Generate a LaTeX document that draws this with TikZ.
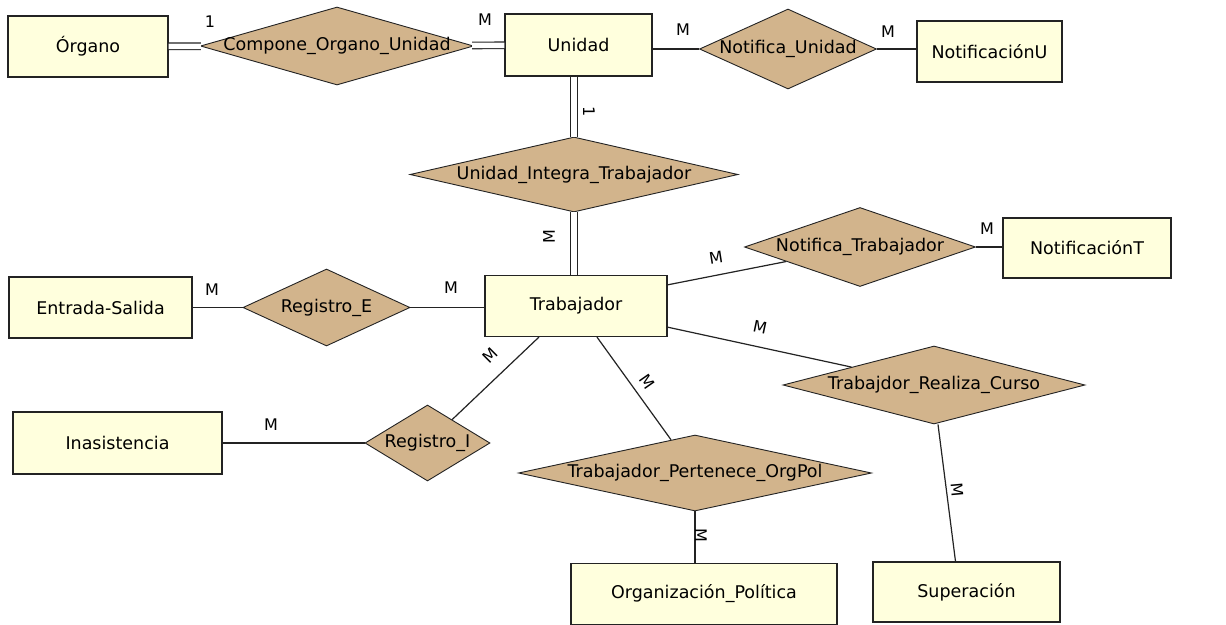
\documentclass[tikz,border=0pt]{standalone}
\usepackage{fontspec}
\setmainfont{DejaVu Sans}
\usetikzlibrary{shapes.geometric}
\definecolor{entfill}{RGB}{255,255,221}
\definecolor{relfill}{RGB}{210,180,140}
\definecolor{edgec}{RGB}{35,35,35}
\begin{document}
\begin{tikzpicture}[x=1pt,y=-1pt,
 ent/.style={draw=edgec, line width=1.2pt, fill=entfill, rectangle, inner sep=0pt, font=\fontsize{17.5}{20}\selectfont},
 rel/.style={draw=edgec, line width=0.9pt, fill=relfill, diamond, inner sep=0pt},
 rtext/.style={font=\fontsize{17.5}{20}\selectfont, inner sep=0pt},
 card/.style={font=\fontsize{16}{18}\selectfont, inner sep=0pt},
 link/.style={draw=edgec, line width=1.2pt},
 dbl/.style={draw=edgec, line width=1.1pt, double=white, double distance=5.5pt}]
\useasboundingbox[fill=white] (0,0) rectangle (1226,624);
% entities
\node[ent, minimum width=160pt, minimum height=61pt] (org) at (88,46.5) {Órgano};
\node[ent, minimum width=147pt, minimum height=62pt] (uni) at (578.5,45) {Unidad};
\node[ent, minimum width=145pt, minimum height=61pt] (notu) at (989.5,51.5) {NotificaciónU};
\node[ent, minimum width=168pt, minimum height=60pt] (nott) at (1087,248) {NotificaciónT};
\node[ent, minimum width=183pt, minimum height=61pt] (es) at (100.5,307.5) {Entrada-Salida};
\node[ent, minimum width=182pt, minimum height=61pt] (trab) at (576,306) {Trabajador};
\node[ent, minimum width=209pt, minimum height=62pt] (inas) at (117.5,443) {Inasistencia};
\node[ent, minimum width=266pt, minimum height=61pt] (orgpol) at (704,594) {Organización\_Política};
\node[ent, minimum width=187pt, minimum height=60pt] (sup) at (966.5,592) {Superación};
% relationships
\node[rel, minimum width=273pt, minimum height=78pt, label={[rtext]center:Compone\_Organo\_Unidad}] (cou) at (337,46) {};
\node[rel, minimum width=177pt, minimum height=80pt, label={[rtext]center:Notifica\_Unidad}] (nu) at (788,49) {};
\node[rel, minimum width=328pt, minimum height=75pt, label={[rtext]center:Unidad\_Integra\_Trabajador}] (uit) at (574,174.5) {};
\node[rel, minimum width=231pt, minimum height=79pt, label={[rtext]center:Notifica\_Trabajador}] (nt) at (860,247) {};
\node[rel, minimum width=167pt, minimum height=77pt, label={[rtext]center:Registro\_E}] (re) at (326.5,307.5) {};
\node[rel, minimum width=302pt, minimum height=78pt, label={[rtext]center:Trabajdor\_Realiza\_Curso}] (rc) at (934,385) {};
\node[rel, minimum width=125pt, minimum height=76pt, label={[rtext]center:Registro\_I}] (ri) at (427.5,443) {};
\node[rel, minimum width=353pt, minimum height=76pt, label={[rtext]center:Trabajador\_Pertenece\_OrgPol}] (tp) at (695,473) {};
% connectors
\draw[dbl] (org) -- (cou);
\draw[dbl] (cou) -- (uni);
\draw[link] (uni.east |- nu) -- (nu);
\draw[link] (nu) -- (notu.west |- nu);
\draw[dbl] (uni.south -| uit.north) -- (uit.north);
\draw[dbl] (uit.south) -- (uit.south |- trab.north);
\draw[link] (es) -- (re);
\draw[link] (re) -- (re -| trab.west);
\draw[link] (trab.13) -- (nt);
\draw[link] (nt) -- (nt -| nott.west);
\draw[link] (trab.-13) -- (rc);
\draw[link] ([xshift=4pt]rc.south) -- ([xshift=-11pt]sup.north);
\draw[link] (trab.-56) -- (tp);
\draw[link] (tp.south) -- (tp.south |- orgpol.north);
\draw[link] (trab.220) -- (ri);
\draw[link] (inas) -- (ri);
% cardinalities
\node[card] (c1) at (210,22) {1};
\node[card] (c2) at (485,20) {M};
\node[card] (c3) at (683,30) {M};
\node[card] (c4) at (888,32) {M};
\node[card, rotate=-90] (c5) at (589,112) {1};
\node[card, rotate=90] (c6) at (549,237) {M};
\node[card] (c7) at (212,290) {M};
\node[card] (c8) at (451,288) {M};
\node[card, rotate=9] (c9) at (716,258) {M};
\node[card] (c10) at (987,229) {M};
\node[card, rotate=-12] (c11) at (760,327) {M};
\node[card, rotate=45] (c12) at (490,355) {M};
\node[card, rotate=-55] (c13) at (647,382) {M};
\node[card] (c14) at (271,425) {M};
\node[card, rotate=-90] (c15) at (701,535) {M};
\node[card, rotate=-85] (c16) at (957,490) {M};
\end{tikzpicture}
\end{document}
